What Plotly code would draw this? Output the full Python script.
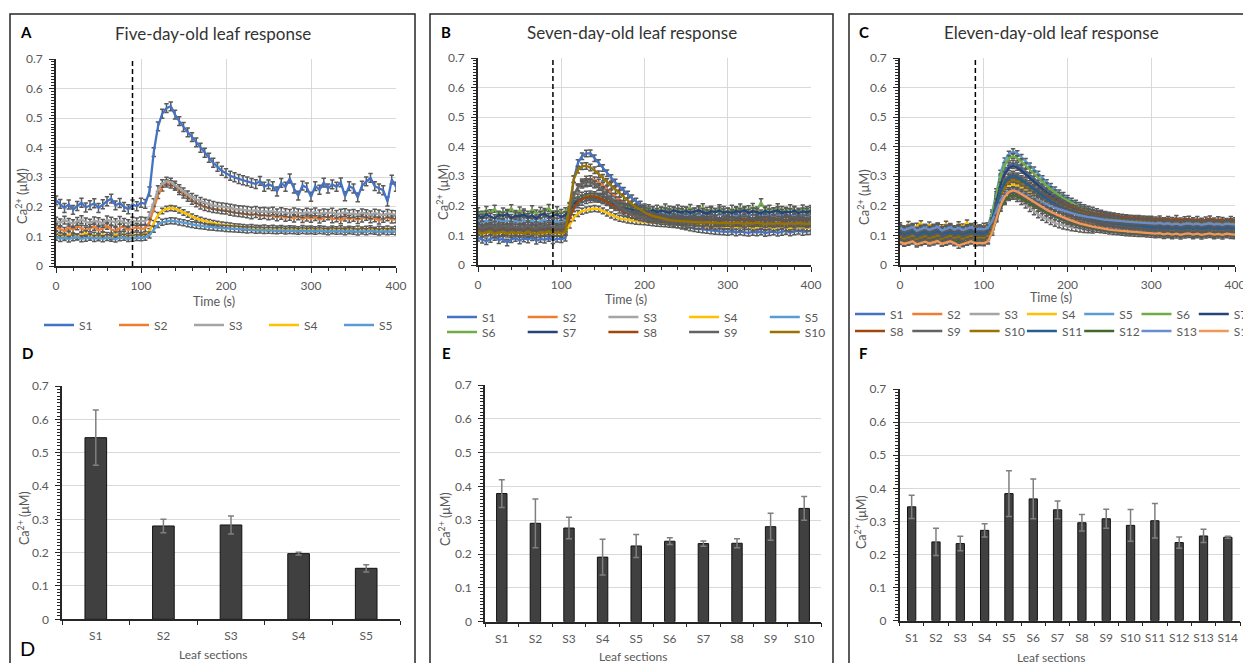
import plotly.graph_objects as go

W, H = 1243, 663

# sampling times of the calcium traces (s)
time_s = list(range(0, 401, 5))
stimulus_time = 90

# ---------------- Five-day-old leaf: Ca2+ traces (nM) ----------------
a_names = ["S1", "S2", "S3", "S4", "S5"]
a_s1 = [222, 210, 196, 208, 190, 203, 214, 198, 206, 212,
        196, 209, 219, 228, 205, 213, 200, 192, 208, 202,
        214, 210, 252, 385, 472, 515, 534, 540, 512, 490,
        470, 452, 436, 418, 400, 383, 366, 349, 335, 322,
        314, 305, 300, 294, 290, 286, 281, 277, 288, 268,
        276, 270, 252, 281, 268, 296, 262, 238, 272, 266,
        234, 270, 258, 282, 262, 276, 268, 283, 236, 270,
        262, 232, 272, 286, 298, 270, 262, 256, 218, 292, 268]
a_s2 = [132, 124, 118, 130, 122, 135, 126, 119, 128, 133,
        121, 127, 136, 124, 118, 129, 134, 122, 126, 131,
        125, 128, 148, 196, 240, 266, 279, 276, 268, 254,
        242, 231, 221, 212, 205, 200, 196, 193, 191, 189,
        188, 184, 181, 179, 178, 175, 172, 176, 170, 173,
        168, 171, 165, 170, 163, 167, 161, 168, 159, 164,
        160, 166, 157, 163, 168, 158, 162, 155, 164, 159,
        163, 156, 161, 167, 158, 162, 154, 160, 165, 157, 158]
a_s3 = [152, 146, 155, 148, 143, 151, 157, 149, 145, 153,
        150, 144, 156, 152, 147, 154, 148, 143, 152, 149,
        153, 151, 170, 214, 258, 279, 287, 284, 274, 262,
        251, 241, 232, 225, 219, 213, 209, 205, 202, 200,
        198, 196, 193, 191, 190, 188, 186, 188, 184, 185,
        183, 186, 180, 184, 181, 178, 183, 180, 177, 182,
        179, 183, 176, 180, 178, 182, 175, 179, 181, 176,
        178, 174, 180, 177, 173, 179, 176, 172, 178, 175, 174]
a_s4 = [108, 104, 101, 107, 103, 99, 106, 110, 102, 105,
        101, 107, 104, 99, 106, 103, 108, 101, 104, 106,
        103, 108, 118, 145, 172, 186, 193, 196, 194, 188,
        181, 174, 167, 161, 156, 152, 148, 145, 142, 140,
        138, 136, 134, 133, 131, 130, 131, 129, 128, 130,
        127, 129, 126, 128, 125, 127, 126, 124, 128, 125,
        126, 124, 127, 125, 123, 126, 124, 127, 123, 125,
        124, 126, 123, 125, 127, 122, 125, 124, 126, 123, 125]
a_s5 = [97, 93, 96, 91, 95, 98, 92, 94, 97, 93,
        95, 92, 96, 94, 91, 95, 97, 93, 94, 96,
        95, 97, 105, 124, 140, 148, 151, 153, 152, 149,
        146, 143, 140, 138, 136, 134, 132, 131, 129, 128,
        127, 126, 125, 124, 123, 122, 123, 121, 122, 120,
        121, 120, 119, 121, 118, 120, 119, 117, 120, 118,
        119, 117, 120, 118, 116, 119, 117, 118, 116, 119,
        117, 115, 118, 116, 119, 117, 115, 118, 116, 117, 116]
a_err = [15, 12, 13, 9, 10]

# ---------------- Seven-day-old leaf: Ca2+ traces (nM) ----------------
b_names = ["S1", "S2", "S3", "S4", "S5", "S6", "S7", "S8", "S9", "S10"]
b_s1 = [92, 85, 80, 88, 95, 84, 89, 76, 87, 91,
        83, 90, 86, 94, 82, 88, 85, 91, 84, 89,
        87, 92, 180, 290, 345, 368, 377, 378, 361, 345,
        328, 310, 294, 279, 265, 251, 238, 226, 215, 205,
        195, 185, 175, 167, 159, 152, 146, 141, 137, 133,
        130, 127, 124, 122, 120, 118, 117, 115, 114, 113,
        112, 114, 110, 113, 111, 109, 112, 110, 113, 108,
        111, 113, 109, 112, 115, 110, 113, 116, 112, 114, 115]
b_s2 = [121, 115, 119, 124, 113, 118, 122, 116, 120, 114,
        119, 123, 117, 112, 121, 118, 115, 122, 117, 120,
        116, 120, 170, 228, 262, 280, 289, 291, 287, 279,
        268, 256, 243, 230, 218, 207, 197, 189, 182, 176,
        171, 167, 164, 161, 159, 157, 158, 155, 154, 156,
        153, 155, 151, 154, 150, 153, 156, 151, 149, 154,
        152, 149, 153, 150, 155, 151, 148, 152, 154, 150,
        153, 149, 151, 155, 150, 152, 148, 153, 151, 149, 152]
b_s3 = [138, 132, 136, 130, 135, 139, 133, 137, 131, 134,
        136, 131, 138, 133, 135, 130, 137, 134, 132, 136,
        133, 136, 178, 230, 258, 271, 276, 277, 272, 264,
        254, 243, 231, 219, 208, 198, 189, 181, 175, 170,
        166, 162, 159, 157, 155, 153, 151, 150, 149, 148,
        147, 149, 146, 148, 145, 147, 144, 146, 148, 145,
        146, 144, 147, 145, 143, 146, 144, 147, 145, 143,
        145, 147, 144, 146, 143, 145, 147, 144, 146, 145, 144]
b_s4 = [110, 105, 108, 112, 104, 109, 106, 111, 103, 108,
        107, 110, 104, 109, 112, 105, 108, 106, 110, 107,
        104, 110, 135, 160, 174, 182, 186, 189, 191, 189,
        183, 176, 169, 163, 158, 155, 152, 150, 148, 147,
        146, 144, 143, 141, 140, 139, 138, 137, 136, 135,
        134, 136, 133, 132, 135, 131, 133, 130, 132, 129,
        131, 128, 130, 127, 129, 131, 126, 128, 130, 127,
        129, 126, 128, 130, 127, 125, 129, 127, 128, 126, 127]
b_s5 = [152, 146, 150, 144, 149, 153, 147, 151, 145, 149,
        148, 152, 146, 150, 144, 149, 153, 147, 150, 146,
        149, 151, 170, 192, 205, 213, 219, 222, 224, 223,
        219, 213, 207, 201, 195, 190, 186, 183, 181, 179,
        178, 177, 176, 175, 174, 175, 173, 172, 174, 171,
        172, 170, 173, 171, 169, 172, 170, 168, 171, 169,
        170, 172, 168, 171, 169, 167, 170, 172, 168, 170,
        169, 171, 167, 170, 172, 168, 170, 169, 171, 167, 169]
b_s6 = [182, 170, 186, 175, 190, 168, 181, 176, 192, 172,
        184, 177, 170, 188, 174, 183, 179, 193, 171, 185,
        176, 182, 196, 215, 228, 234, 237, 238, 236, 231,
        225, 218, 212, 206, 201, 197, 194, 192, 190, 189,
        188, 192, 185, 190, 183, 194, 187, 182, 191, 186,
        184, 193, 180, 188, 195, 183, 187, 179, 192, 186,
        181, 190, 185, 194, 182, 188, 196, 184, 212, 187,
        190, 181, 195, 186, 183, 192, 187, 180, 191, 185, 189]
b_s7 = [168, 160, 171, 163, 158, 170, 166, 173, 159, 167,
        164, 172, 161, 168, 157, 169, 174, 162, 166, 170,
        163, 168, 185, 205, 218, 225, 229, 231, 230, 226,
        220, 214, 208, 202, 197, 193, 190, 187, 185, 184,
        183, 180, 186, 179, 184, 181, 177, 185, 180, 178,
        183, 176, 181, 185, 178, 174, 182, 179, 184, 177,
        180, 175, 183, 178, 186, 176, 181, 179, 174, 183,
        177, 182, 185, 176, 180, 178, 184, 175, 181, 179, 183]
b_s8 = [125, 119, 123, 127, 118, 122, 126, 120, 124, 117,
        121, 125, 119, 123, 128, 120, 122, 126, 118, 123,
        121, 124, 158, 192, 212, 223, 229, 232, 231, 227,
        220, 212, 203, 195, 187, 180, 174, 169, 165, 162,
        160, 158, 157, 156, 155, 154, 153, 155, 152, 153,
        151, 154, 150, 152, 155, 149, 153, 151, 148, 152,
        150, 153, 149, 151, 154, 150, 148, 152, 150, 153,
        149, 151, 154, 148, 152, 150, 153, 149, 151, 150, 152]
b_s9 = [131, 125, 129, 133, 124, 128, 132, 126, 130, 127,
        129, 125, 133, 127, 124, 130, 128, 132, 126, 129,
        127, 131, 180, 236, 263, 276, 281, 280, 273, 263,
        250, 236, 222, 208, 196, 186, 177, 170, 165, 161,
        158, 155, 153, 151, 149, 148, 147, 146, 145, 144,
        143, 145, 142, 144, 141, 143, 140, 142, 144, 141,
        142, 140, 143, 141, 139, 142, 140, 143, 141, 139,
        141, 143, 140, 142, 139, 141, 143, 140, 142, 141, 140]
b_s10 = [112, 107, 110, 114, 105, 109, 113, 106, 111, 108,
         110, 106, 113, 108, 104, 111, 109, 114, 107, 110,
         108, 112, 200, 290, 322, 334, 335, 330, 320, 307,
         295, 281, 268, 254, 241, 228, 216, 205, 195, 186,
         178, 171, 166, 162, 158, 155, 152, 150, 149, 148,
         147, 145, 146, 144, 143, 145, 142, 144, 141, 143,
         142, 140, 143, 141, 139, 142, 140, 143, 141, 138,
         141, 139, 142, 140, 138, 141, 139, 142, 140, 138, 140]
b_err = [11, 11, 11, 10, 11, 12, 12, 11, 11, 11]

# ---------------- Eleven-day-old leaf: Ca2+ traces (nM) ----------------
c_names = ["S1", "S2", "S3", "S4", "S5", "S6", "S7",
           "S8", "S9", "S10", "S11", "S12", "S13", "S14"]
c_s1 = [118, 110, 121, 113, 108, 117, 122, 112, 116, 109,
        119, 114, 107, 120, 115, 111, 123, 113, 117, 110,
        116, 122, 161, 225, 280, 317, 337, 344, 338, 327,
        315, 302, 290, 277, 265, 252, 242, 231, 223, 214,
        206, 198, 191, 185, 179, 175, 171, 166, 162, 159,
        156, 153, 152, 149, 148, 146, 144, 143, 141, 142,
        140, 138, 141, 137, 139, 136, 140, 138, 135, 139,
        137, 135, 138, 136, 139, 134, 137, 135, 138, 136, 134]
c_s2 = [103, 97, 101, 95, 104, 99, 102, 96, 100, 105,
        98, 102, 96, 101, 104, 97, 100, 103, 95, 101,
        99, 104, 128, 166, 199, 221, 234, 238, 234, 228,
        221, 214, 207, 200, 192, 185, 179, 173, 168, 164,
        159, 154, 150, 147, 143, 141, 138, 136, 134, 132,
        130, 129, 128, 126, 125, 124, 123, 122, 122, 121,
        121, 119, 120, 118, 121, 117, 119, 120, 116, 119,
        118, 120, 116, 119, 117, 120, 118, 116, 119, 117, 118]
c_s3 = [93, 87, 91, 85, 94, 89, 92, 86, 90, 95,
        88, 92, 86, 91, 94, 87, 90, 93, 85, 91,
        89, 94, 119, 159, 193, 216, 229, 233, 226, 216,
        204, 192, 181, 171, 162, 155, 148, 142, 137, 133,
        130, 127, 125, 123, 121, 120, 119]
c_s4 = [134, 124, 138, 127, 132, 141, 125, 136, 129, 133,
        127, 139, 131, 124, 137, 130, 143, 128, 134, 126,
        132, 134, 159, 199, 233, 256, 269, 273, 269, 262,
        253, 244, 236, 227, 219, 210, 203, 196, 190, 184,
        179, 173, 169, 164, 160, 157, 154, 151, 149, 146,
        144, 143, 141, 140, 139, 137, 136, 136, 135, 134,
        134, 131, 133, 129, 132, 130, 134, 128, 131, 133,
        129, 132, 130, 128, 133, 131, 129, 132, 130, 128, 131]
c_s5 = [128, 121, 126, 131, 119, 125, 129, 122, 127, 132,
        120, 126, 130, 123, 128, 121, 127, 131, 124, 126,
        123, 133, 177, 249, 311, 353, 376, 384, 377, 365,
        351, 336, 322, 308, 293, 279, 267, 255, 245, 236,
        226, 217, 210, 202, 195, 190, 186, 181, 176, 172,
        169, 167, 164, 162, 159, 157, 156, 155, 153, 152,
        151, 149, 150, 147, 149, 146, 148, 145, 147, 144,
        146, 144, 147, 143, 146, 145, 142, 146, 144, 147, 145]
c_s6 = [123, 116, 121, 127, 114, 120, 125, 117, 122, 128,
        115, 121, 126, 118, 124, 116, 122, 127, 119, 121,
        118, 127, 170, 239, 299, 338, 361, 368, 361, 350,
        336, 322, 309, 295, 281, 268, 256, 245, 236, 227,
        218, 208, 202, 195, 188, 183, 179, 174, 170, 166,
        163, 161, 158, 156, 154, 151, 150, 149, 148, 147,
        146, 143, 145, 142, 144, 141, 143, 140, 142, 139,
        141, 139, 142, 138, 141, 140, 137, 141, 139, 142, 140]
c_s7 = [108, 101, 106, 111, 99, 104, 109, 102, 107, 112,
        100, 106, 110, 103, 108, 101, 105, 111, 102, 107,
        104, 112, 151, 215, 271, 307, 328, 335, 329, 319,
        306, 294, 282, 269, 257, 245, 235, 224, 216, 208,
        200, 192, 185, 179, 173, 169, 165, 161, 157, 154,
        151, 148, 146, 144, 142, 140, 139, 138, 137, 136,
        135, 132, 134, 131, 133, 130, 132, 129, 131, 133,
        130, 128, 131, 129, 132, 130, 128, 131, 129, 130, 131]
c_s8 = [98, 92, 96, 101, 90, 95, 99, 93, 97, 102,
        91, 96, 100, 94, 98, 92, 97, 101, 93, 96,
        94, 101, 135, 191, 240, 272, 290, 296, 292, 284,
        276, 267, 259, 250, 241, 233, 225, 218, 212, 207,
        201, 195, 191, 187, 182, 179, 176, 174, 171, 169,
        166, 165, 164, 162, 161, 159, 158, 158, 157, 156,
        156, 153, 157, 151, 155, 152, 158, 150, 154, 156,
        151, 155, 149, 153, 157, 150, 154, 152, 148, 155, 151]
c_s9 = [103, 97, 101, 106, 95, 100, 104, 98, 102, 107,
        96, 101, 105, 99, 103, 97, 102, 106, 98, 101,
        99, 106, 142, 200, 250, 283, 302, 308, 302, 293,
        282, 271, 260, 248, 237, 226, 217, 208, 200, 193,
        185, 178, 172, 167, 161, 157, 154, 150, 146, 143,
        141, 139, 137, 135, 133, 131, 130, 129, 129, 128,
        127, 124, 126, 122, 125, 121, 124, 120, 123, 125,
        121, 124, 120, 123, 125, 121, 123, 120, 124, 122, 121]
c_s10 = [95, 88, 93, 99, 86, 92, 97, 89, 94, 100,
         87, 93, 98, 90, 95, 88, 94, 99, 90, 93,
         91, 98, 131, 186, 233, 264, 282, 288, 284, 276,
         268, 259, 250, 241, 233, 224, 216, 209, 203, 197,
         192, 186, 181, 177, 173, 170, 167, 164, 161, 159,
         157, 155, 154, 152, 151, 149, 149, 148, 147, 146,
         146, 143, 145, 141, 144, 140, 143, 139, 142, 145,
         141, 144, 139, 143, 145, 140, 142, 139, 144, 141, 142]
c_s11 = [111, 104, 109, 114, 102, 108, 112, 105, 110, 115,
         103, 109, 113, 106, 111, 104, 110, 114, 106, 108,
         107, 114, 147, 201, 248, 279, 296, 302, 297, 288,
         277, 267, 256, 245, 235, 224, 215, 206, 199, 192,
         185, 178, 173, 167, 162, 159, 155, 152, 148, 145,
         143, 141, 139, 137, 136, 134, 133, 132, 131, 130,
         129, 126, 128, 124, 127, 123, 126, 122, 125, 127,
         123, 126, 122, 125, 127, 123, 125, 122, 126, 124, 123]
c_s12 = [80, 75, 79, 83, 74, 78, 82, 76, 80, 84,
         75, 79, 82, 77, 81, 74, 79, 83, 76, 78,
         77, 83, 110, 154, 192, 217, 231, 236, 232, 225,
         217, 209, 201, 192, 184, 176, 169, 163, 157, 152,
         146, 141, 137, 133, 129, 126, 123, 120, 118, 116,
         114, 112, 111, 110, 108, 107, 106, 105, 105, 104,
         103, 101, 102, 99, 101, 98, 100, 97, 100, 102,
         98, 101, 97, 100, 102, 98, 100, 97, 101, 99, 98]
c_s13 = [125, 118, 123, 128, 116, 122, 126, 119, 124, 129,
         117, 123, 127, 120, 125, 118, 124, 128, 120, 122,
         121, 126, 149, 186, 218, 240, 252, 256, 253, 247,
         240, 233, 226, 219, 212, 205, 199, 193, 189, 184,
         179, 175, 171, 168, 164, 162, 160, 157, 155, 153,
         152, 150, 149, 148, 147, 146, 145, 145, 144, 143,
         143, 140, 142, 138, 141, 137, 140, 136, 139, 141,
         137, 140, 136, 139, 141, 137, 139, 136, 140, 138, 137]
c_s14 = [78, 72, 76, 80, 70, 75, 79, 73, 77, 81,
         72, 76, 80, 74, 66, 71, 76, 80, 73, 75,
         74, 80, 110, 160, 202, 231, 247, 252, 248, 240,
         231, 223, 214, 205, 196, 187, 180, 173, 167, 161,
         155, 149, 145, 140, 136, 133, 130, 127, 124, 122,
         120, 118, 117, 115, 114, 112, 112, 111, 110, 109,
         109, 106, 108, 104, 107, 103, 106, 102, 105, 107,
         103, 106, 102, 105, 107, 103, 105, 102, 106, 104, 103]
c_err = [9, 9, 11, 9, 9, 9, 9, 9, 9, 9, 9, 9, 9, 9]

# ---------------- Peak responses per leaf section (µM, mean ± SD) ----------------
d_sections = ["S1", "S2", "S3", "S4", "S5"]
d_peak = [0.545, 0.280, 0.283, 0.197, 0.153]
d_sd = [0.083, 0.020, 0.027, 0.004, 0.011]

e_sections = ["S1", "S2", "S3", "S4", "S5", "S6", "S7", "S8", "S9", "S10"]
e_peak = [0.379, 0.291, 0.277, 0.191, 0.224, 0.238, 0.231, 0.232, 0.281, 0.335]
e_sd = [0.041, 0.072, 0.032, 0.053, 0.034, 0.010, 0.008, 0.013, 0.040, 0.035]

f_sections = ["S1", "S2", "S3", "S4", "S5", "S6", "S7",
              "S8", "S9", "S10", "S11", "S12", "S13", "S14"]
f_peak = [0.344, 0.238, 0.233, 0.273, 0.384, 0.368, 0.335,
          0.296, 0.308, 0.288, 0.302, 0.236, 0.256, 0.252]
f_sd = [0.035, 0.041, 0.022, 0.020, 0.069, 0.060, 0.027,
        0.025, 0.029, 0.048, 0.052, 0.017, 0.020, 0.003]

# Office-style series palette
palette = ["#4472C4", "#ED7D31", "#A5A5A5", "#FFC000", "#5B9BD5", "#70AD47",
           "#264478", "#9E480E", "#636363", "#997300", "#255E91", "#43682B",
           "#698ED0", "#F1975A"]

FONT = "Lato, 'Open Sans', sans-serif"
TICK = "#595959"
GRID = "#d9d9d9"
AXC = "#262626"


def px(x):
    return x / W


def py(y):
    return 1 - y / H


fig = go.Figure()


def add_traces(series, names, errs, xref, yref, legends):
    for i, vals in enumerate(series):
        fig.add_trace(go.Scatter(
            x=time_s[:len(vals)], y=[v / 1000 for v in vals],
            mode="lines", name=names[i],
            line=dict(color=palette[i], width=2.3),
            error_y=dict(type="constant", value=errs[i] / 1000,
                         color="#5a5a5a", thickness=1.5, width=2.2),
            xaxis=xref, yaxis=yref, legend=legends[i],
            hoverinfo="skip"))


add_traces([a_s1, a_s2, a_s3, a_s4, a_s5], a_names, a_err, "x", "y",
           ["legend"] * 5)
add_traces([b_s1, b_s2, b_s3, b_s4, b_s5, b_s6, b_s7, b_s8, b_s9, b_s10],
           b_names, b_err, "x2", "y2", ["legend2"] * 5 + ["legend3"] * 5)
add_traces([c_s1, c_s2, c_s3, c_s4, c_s5, c_s6, c_s7, c_s8, c_s9, c_s10,
            c_s11, c_s12, c_s13, c_s14],
           c_names, c_err, "x3", "y3", ["legend4"] * 7 + ["legend5"] * 7)


def add_bars(cats, peaks, sds, xref, yref, bw):
    fig.add_trace(go.Bar(
        x=cats, y=peaks, width=bw, showlegend=False,
        marker=dict(color="#404040", line=dict(color="#111111", width=1)),
        error_y=dict(type="data", array=sds, color="#7f7f7f",
                     thickness=1.5, width=3),
        xaxis=xref, yaxis=yref, hoverinfo="skip"))


add_bars(d_sections, d_peak, d_sd, "x4", "y4", 0.32)
add_bars(e_sections, e_peak, e_sd, "x5", "y5", 0.31)
add_bars(f_sections, f_peak, f_sd, "x6", "y6", 0.34)

tickfont = dict(family=FONT, size=12, color=TICK)
yaxis_common = dict(
    range=[0, 0.7], dtick=0.1, tick0=0, showgrid=True, gridcolor=GRID,
    gridwidth=1, zeroline=False, showline=True, linecolor=AXC, linewidth=1.5,
    ticks="outside", ticklen=5, tickcolor=AXC, tickwidth=1,
    minor=dict(dtick=0.01, tick0=0, ticks="outside", ticklen=3,
               tickcolor=AXC, showgrid=False),
    tickfont=tickfont, ticklabelstandoff=4, fixedrange=True)

layout_axes = {}
line_panels = [("", 56, 396, 266, 59), ("2", 478, 811, 265, 58),
               ("3", 900, 1235, 265, 58)]
for n, x0, x1, yb, yt in line_panels:
    layout_axes["xaxis" + n] = dict(
        domain=[px(x0), px(x1)], anchor="y" + n, range=[0, 400], dtick=100,
        tick0=0, showgrid=True, gridcolor=GRID, gridwidth=1, zeroline=False,
        showline=True, linecolor=AXC, linewidth=1.5, ticks="outside",
        ticklen=5, tickcolor=AXC,
        minor=dict(dtick=20, tick0=0, ticks="outside", ticklen=3,
                   tickcolor=AXC, showgrid=False),
        tickfont=tickfont, ticklabelstandoff=3, ticklabeloverflow="allow",
        tickangle=0, fixedrange=True)
    layout_axes["yaxis" + n] = dict(domain=[py(yb), py(yt)], anchor="x" + n,
                                    **yaxis_common)

bar_panels = [("4", 62, 400, 619.3, 386, len(d_sections)),
              ("5", 485, 821, 621.7, 385, len(e_sections)),
              ("6", 899.5, 1240, 620.7, 389, len(f_sections))]
for n, x0, x1, yb, yt, k in bar_panels:
    layout_axes["xaxis" + n] = dict(
        domain=[px(x0), px(x1)], anchor="y" + n, type="category",
        range=[-0.5, k - 0.5], showgrid=False, zeroline=False, showline=True,
        linecolor=AXC, linewidth=1.5, ticks="outside", ticklen=4,
        tickcolor=AXC, tickson="boundaries", tickfont=tickfont, tickangle=0,
        ticklabelstandoff=5, ticklabeloverflow="allow", fixedrange=True)
    layout_axes["yaxis" + n] = dict(domain=[py(yb), py(yt)], anchor="x" + n,
                                    **yaxis_common)

# stimulus markers and panel frames
shapes = []
for xr, yr in [("x", "y"), ("x2", "y2"), ("x3", "y3")]:
    shapes.append(dict(type="line", xref=xr, yref=yr, x0=stimulus_time,
                       x1=stimulus_time, y0=0, y1=0.7, layer="above",
                       line=dict(color="black", width=1.5, dash="5px,3px")))
for x0, x1 in [(10, 415), (430, 833), (849, 1260)]:
    shapes.append(dict(type="rect", xref="paper", yref="paper",
                       x0=px(x0), x1=px(x1), y0=py(14), y1=py(680),
                       line=dict(color=AXC, width=1.5),
                       fillcolor="rgba(0,0,0,0)", layer="above"))

annotations = []


def text(x, y, s, size=12, color=TICK, angle=0, bold=False):
    annotations.append(dict(
        x=px(x), y=py(y), xref="paper", yref="paper", showarrow=False,
        text=("<b>%s</b>" % s) if bold else s, textangle=angle,
        xanchor="center", yanchor="middle",
        font=dict(family=FONT, size=size, color=color)))


# panel letters
for s, x, y in [("A", 26, 32), ("B", 446, 32), ("C", 864, 32),
                ("D", 27, 353), ("E", 446, 353), ("F", 863, 353)]:
    text(x, y, s, size=15, color="black", bold=True)
text(27, 648, "D", size=20, color="black")

# chart titles
text(213, 33, "Five-day-old leaf response", size=17, color="#333333")
text(632, 32, "Seven-day-old leaf response", size=17, color="#333333")
text(1051, 32, "Eleven-day-old leaf response", size=17, color="#333333")

# axis titles
ca = "Ca<sup>2+</sup> (μM)"
for x, y in [(21, 196), (442, 192), (863, 197)]:
    text(x, y, ca, size=13, angle=-90)
for x, y in [(23, 518), (444, 519), (860, 522)]:
    text(x, y, ca, size=12.5, angle=-90)
for x, y in [(214, 302), (626, 300), (1051, 297)]:
    text(x, y, "Time (s)", size=12.5)
for x, y in [(213, 654), (633, 656), (1051, 657)]:
    text(x, y, "Leaf sections", size=12)


def legend_box(x, ytop, entry):
    return dict(x=px(x), y=py(ytop), xanchor="left", yanchor="top",
                orientation="h", entrywidth=entry, entrywidthmode="pixels",
                itemwidth=30, bgcolor="rgba(0,0,0,0)", borderwidth=0,
                font=dict(family=FONT, size=12, color=TICK),
                traceorder="normal", itemclick=False, itemdoubleclick=False)


fig.update_layout(
    width=W, height=H, template="none",
    paper_bgcolor="white", plot_bgcolor="white",
    margin=dict(l=0, r=0, t=0, b=0, autoexpand=False),
    font=dict(family=FONT, color=TICK),
    showlegend=True,
    legend=legend_box(39, 310.5, 30),
    legend2=legend_box(442, 302.5, 35.7),
    legend3=legend_box(442, 317.5, 35.7),
    legend4=legend_box(850, 299.5, 12.3),
    legend5=legend_box(850, 316.5, 12.3),
    shapes=shapes, annotations=annotations,
    **layout_axes)

fig.write_html("out.html")
